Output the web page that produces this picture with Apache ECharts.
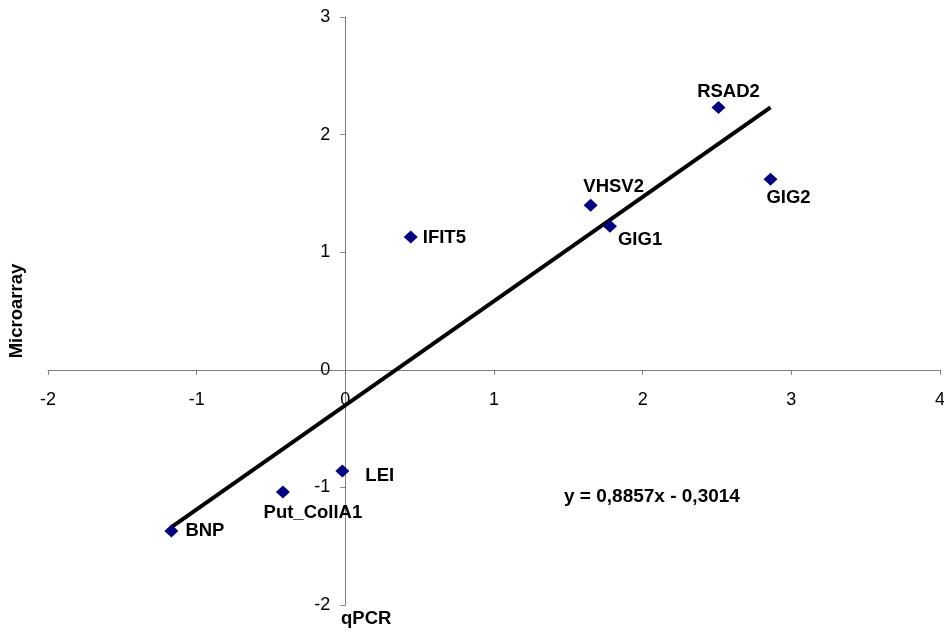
<!DOCTYPE html>
<html>
<head>
<meta charset="utf-8">
<script src="https://cdn.jsdelivr.net/npm/echarts@6/dist/echarts.min.js"></script>
<style>
  html, body { margin: 0; padding: 0; background: #fff; }
  #chart { width: 944px; height: 633px; }
</style>
</head>
<body>
<div id="chart"></div>
<script>
// genes, qPCR (x) and microarray (y) values
const genes = ['BNP', 'Put_CollA1', 'LEI', 'IFIT5', 'VHSV2', 'GIG1', 'RSAD2', 'GIG2']
const qpcr = [-1.17, -0.42, -0.02, 0.44, 1.65, 1.78, 2.51, 2.86]
const microarray = [-1.37, -1.04, -0.86, 1.13, 1.40, 1.22, 2.23, 1.62]

// linear trendline as printed on the chart
const slope = 0.8857
const intercept = -0.3014
const equationText = 'y = 0,8857x - 0,3014'

const xTicks = { min: -2, max: 4, interval: 1 }
const yTicks = { min: -2, max: 3, interval: 1 }

// where each label sits around its marker
const labelPlace = {
  BNP: { position: 'right', offset: [2, 0] },
  Put_CollA1: { position: 'bottom', offset: [30, 0] },
  LEI: { position: 'right', offset: [11, 5] },
  IFIT5: { position: 'right', offset: [0, 1] },
  VHSV2: { position: 'top', offset: [23, 3] },
  GIG1: { position: 'right', offset: [-4, 14] },
  RSAD2: { position: 'top', offset: [10, 5] },
  GIG2: { position: 'bottom', offset: [18, -2] }
}

const points = genes.map((g, i) => ({
  name: g,
  value: [qpcr[i], microarray[i]],
  label: labelPlace[g]
}))

const xLo = Math.min(...qpcr)
const xHi = Math.max(...qpcr)
const trend = [[xLo, slope * xLo + intercept], [xHi, slope * xHi + intercept]]

const axisGrey = '#808080'
const font = 'Liberation Sans, Arial, sans-serif'

// plot box; the axes cross at (0, 0) so they are shifted inward from the edges
const box = { left: 48, right: 4, top: 17, bottom: 28 }
const W = 944 - box.left - box.right
const H = 633 - box.top - box.bottom
const yAxisShift = -W * (0 - xTicks.min) / (xTicks.max - xTicks.min)
const xAxisShift = -H * (0 - yTicks.min) / (yTicks.max - yTicks.min)

const chart = echarts.init(document.getElementById('chart'))
chart.setOption({
  animation: false,
  grid: { ...box, containLabel: false, outerBoundsMode: 'none' },
  xAxis: {
    type: 'value',
    position: 'bottom',
    offset: xAxisShift,
    min: xTicks.min,
    max: xTicks.max,
    interval: xTicks.interval,
    axisLine: { onZero: false, lineStyle: { color: axisGrey, width: 1 } },
    axisTick: { show: true, length: 5, inside: false, lineStyle: { color: axisGrey } },
    axisLabel: { color: '#000', fontSize: 18, fontFamily: font, margin: 21 },
    splitLine: { show: false }
  },
  yAxis: {
    type: 'value',
    position: 'left',
    offset: yAxisShift,
    min: yTicks.min,
    max: yTicks.max,
    interval: yTicks.interval,
    name: 'Microarray',
    nameLocation: 'middle',
    nameGap: 319,
    nameTextStyle: { fontSize: 18.5, fontWeight: 'bold', fontFamily: font, color: '#000' },
    axisLine: { onZero: false, lineStyle: { color: axisGrey, width: 1 } },
    axisTick: { show: true, length: 5, lineStyle: { color: axisGrey } },
    axisLabel: { color: '#000', fontSize: 18, fontFamily: font, margin: 15 },
    splitLine: { show: false }
  },
  graphic: [
    {
      type: 'text', left: 341, top: 609,
      style: { text: 'qPCR', fontSize: 18.5, fontWeight: 'bold', fontFamily: font, fill: '#000' }
    },
    {
      type: 'text', left: 564, top: 487,
      style: { text: equationText, fontSize: 19, fontWeight: 'bold', fontFamily: font, fill: '#000' }
    }
  ],
  series: [
    {
      name: 'Trend',
      type: 'line',
      data: trend,
      symbol: 'none',
      lineStyle: { color: '#000', width: 4 },
      z: 3
    },
    {
      name: 'Genes',
      type: 'scatter',
      data: points,
      symbol: 'diamond',
      symbolSize: [14, 13],
      itemStyle: { color: '#000080', opacity: 1 },
      label: {
        show: true,
        formatter: '{b}',
        color: '#000',
        fontSize: 18.5,
        fontWeight: 'bold',
        fontFamily: font
      },
      z: 4
    }
  ]
})
</script>
</body>
</html>
